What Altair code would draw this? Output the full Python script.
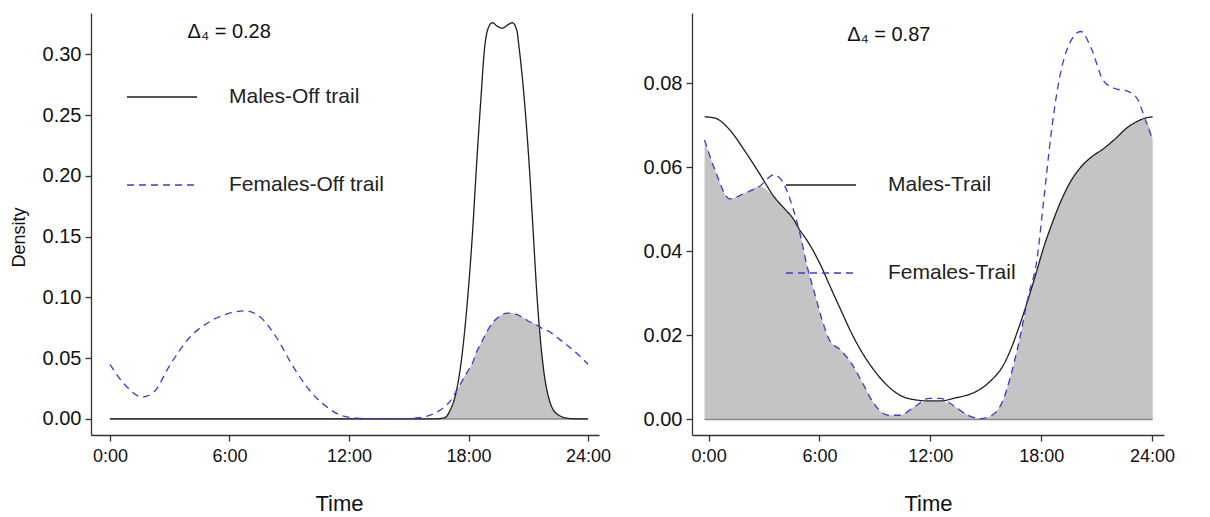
import altair as alt
import pandas as pd

# ---------------- data ----------------
LEFT_HOURS = [0, 0.5, 1.0, 1.6, 2.2, 3.0, 4.0, 5.0, 6.0, 6.8, 7.6, 8.4, 9.2, 10.0,
              10.8, 11.6, 12.5, 13.5, 14.5, 15.5, 16.2, 16.8, 17.1, 17.35, 17.6,
              17.95, 18.2, 18.4, 18.62, 18.8, 19.0, 19.2, 19.45, 19.7, 19.95, 20.2,
              20.42, 20.55, 20.8, 21.05, 21.25, 21.45, 21.75, 22.05, 22.45, 23.0,
              23.5, 24.0]
MALES_OFF = [0, 0, 0, 0, 0, 0, 0, 0, 0, 0, 0, 0, 0, 0,
             0, 0, 0, 0, 0, 0, 0, 0.001, 0.008, 0.02, 0.043,
             0.098, 0.153, 0.208, 0.263, 0.304, 0.322, 0.326, 0.323, 0.3215, 0.324, 0.326,
             0.32, 0.304, 0.263, 0.208, 0.153, 0.098, 0.043, 0.016, 0.004, 0.0005,
             0, 0]
FEMALES_OFF = [0.045, 0.033, 0.024, 0.018, 0.022, 0.044, 0.067, 0.080, 0.087, 0.089, 0.083,
               0.066, 0.043, 0.024, 0.011, 0.003, 0.0005, 0.0, 0.0, 0.001, 0.004, 0.010,
               0.015, 0.022, 0.029, 0.039, 0.046, 0.055, 0.062, 0.068, 0.074, 0.079, 0.083,
               0.086, 0.087, 0.087, 0.086, 0.085, 0.083, 0.080, 0.079, 0.077, 0.074, 0.072,
               0.067, 0.060, 0.053, 0.045]

RIGHT_HOURS = [-0.22, 0.34, 1.14, 1.94, 2.74, 3.54, 4.14, 4.54, 4.94, 5.34, 5.74, 6.14,
               6.54, 7.14, 7.74, 8.34, 8.94, 9.74, 10.34, 11.14, 11.94, 12.54, 13.34,
               14.14, 14.74, 15.34, 15.94, 16.34, 16.74, 17.34, 17.74, 18.14, 18.54,
               18.94, 19.54, 20.14, 20.74, 21.34, 21.94, 22.74, 23.24, 23.64, 24.04]
MALES_TRAIL = [0.072, 0.0717, 0.0689, 0.064, 0.0586, 0.053, 0.050, 0.048, 0.045, 0.0425,
               0.0395, 0.036, 0.032, 0.0262, 0.0205, 0.0157, 0.0118, 0.0078, 0.0058,
               0.0047, 0.0044, 0.0044, 0.0051, 0.0060, 0.0073, 0.0095, 0.0128, 0.0165,
               0.0212, 0.0292, 0.035, 0.041, 0.046, 0.0506, 0.0562, 0.060, 0.0625,
               0.0643, 0.0665, 0.0697, 0.0710, 0.0717, 0.072]
FEMALES_TRAIL = [0.0665, 0.0594, 0.0525, 0.0538, 0.0554, 0.0582, 0.0554, 0.0506, 0.0443,
                 0.0363, 0.030, 0.0237, 0.0189, 0.0165, 0.0133, 0.0086, 0.0038, 0.001,
                 0.001, 0.003, 0.005, 0.005, 0.003, 0.0008, 0.0002, 0.001, 0.0046, 0.0102,
                 0.0173, 0.030, 0.0371, 0.0522, 0.068, 0.080, 0.0895, 0.0923, 0.088,
                 0.0808, 0.0788, 0.078, 0.076, 0.0713, 0.0665]

X_TICKS = [0, 6, 12, 18, 24]
LEFT_Y_TICKS = [0, 0.05, 0.10, 0.15, 0.20, 0.25, 0.30]
RIGHT_Y_TICKS = [0, 0.02, 0.04, 0.06, 0.08]
LEFT_SERIES = ["Males-Off trail", "Females-Off trail"]
RIGHT_SERIES = ["Males-Trail", "Females-Trail"]
LEFT_DELTA = "\u0394\u2084 = 0.28"
RIGHT_DELTA = "\u0394\u2084 =  0.87"
LEFT_DELTA_AT = (3.9, 0.318)
RIGHT_DELTA_AT = (7.5, 0.0915)

FONT = "Liberation Sans"
LINE_COLORS = ["#1e1e1e", "#3a3ad8"]
DASHES = [[1, 0], [7, 5]]
FILL = "#c4c4c4"


def panel(hours, males, females, names, yticks, xdom, ydom, width, ytitle,
          delta, delta_at, legend_x, legend_y, title_x):
    n = len(hours)
    long = pd.DataFrame({
        "hour": list(hours) * 2,
        "density": list(males) + list(females),
        "series": [names[0]] * n + [names[1]] * n,
    })
    overlap = pd.DataFrame({
        "hour": hours,
        "low": [min(a, b) for a, b in zip(males, females)],
        "base": [0.0] * n,
    })
    base_rule = pd.DataFrame({"h0": [hours[0]], "h1": [hours[-1]], "y": [0.0]})
    note = pd.DataFrame({"hour": [delta_at[0]], "density": [delta_at[1]], "label": [delta]})

    xscale = alt.Scale(domain=xdom, nice=False, zero=False)
    yscale = alt.Scale(domain=ydom, nice=False, zero=False)
    xaxis = alt.Axis(values=X_TICKS, labelExpr="datum.value + ':00'", title="Time",
                     titleFontSize=22, titleX=title_x, titleY=68, titleBaseline="middle",
                     labelPadding=6, labelFontSize=18)
    if ytitle:
        yaxis = alt.Axis(values=yticks, format=".2f", title=ytitle, titleFontSize=18,
                         titleX=-72, titleY=224, titleBaseline="middle",
                         labelPadding=4, labelFontSize=20)
    else:
        yaxis = alt.Axis(values=yticks, format=".2f", title=None,
                         labelPadding=4, labelFontSize=20)

    x = alt.X("hour:Q", scale=xscale, axis=xaxis)

    area = alt.Chart(overlap).mark_area(color=FILL, interpolate="monotone").encode(
        x=x,
        y=alt.Y("low:Q", scale=yscale, axis=yaxis),
        y2="base:Q",
    )
    rule = alt.Chart(base_rule).mark_rule(color="#8a8a8a", strokeWidth=1.5).encode(
        x=alt.X("h0:Q", scale=xscale, axis=xaxis),
        x2="h1:Q",
        y=alt.Y("y:Q", scale=yscale, axis=yaxis),
    )
    legend = alt.Legend(orient="none", legendX=legend_x, legendY=legend_y, title=None,
                        symbolType="stroke", symbolSize=4900, symbolStrokeWidth=1.3,
                        labelFont=FONT, labelFontSize=21, labelColor="#222222",
                        labelOffset=31, rowPadding=42, padding=0, labelLimit=400)
    lines = alt.Chart(long).mark_line(interpolate="monotone", strokeWidth=1.3).encode(
        x=x,
        y=alt.Y("density:Q", scale=yscale, axis=yaxis),
        color=alt.Color("series:N", sort=names,
                        scale=alt.Scale(domain=names, range=LINE_COLORS), legend=legend),
        strokeDash=alt.StrokeDash("series:N", sort=names,
                                  scale=alt.Scale(domain=names, range=DASHES), legend=legend),
        detail="series:N",
    )
    text = alt.Chart(note).mark_text(align="left", baseline="middle", font=FONT,
                                      fontSize=20, color="#111111").encode(
        x=x,
        y=alt.Y("density:Q", scale=yscale, axis=yaxis),
        text="label:N",
    )
    return alt.layer(area, rule, lines, text).properties(width=width, height=422)


left = panel(LEFT_HOURS, MALES_OFF, FEMALES_OFF, LEFT_SERIES, LEFT_Y_TICKS,
             [-0.95, 24.55], [-0.0132, 0.334], 508, "Density",
             LEFT_DELTA, LEFT_DELTA_AT, 35, 48, 248)
right = panel(RIGHT_HOURS, MALES_TRAIL, FEMALES_TRAIL, RIGHT_SERIES, RIGHT_Y_TICKS,
              [-0.9, 24.65], [-0.0037, 0.0967], 472, None,
              RIGHT_DELTA, RIGHT_DELTA_AT, 93, 136, 236)

chart = alt.hconcat(left, right, spacing=93, bounds="flush").resolve_scale(
    color="independent", strokeDash="independent", x="independent", y="independent"
).properties(
    padding={"left": 10, "top": 13, "right": 0, "bottom": 0},
    background="white",
).configure_view(stroke=None).configure_axis(
    grid=False, domainColor="#333333", tickColor="#333333", domainWidth=1.3,
    tickWidth=1.3, tickSize=6, labelFont=FONT, labelColor="#111111",
    titleFont=FONT, titleFontWeight="normal", titleColor="#111111",
)

chart.save("out.html", embed_options={"renderer": "svg", "actions": False})
